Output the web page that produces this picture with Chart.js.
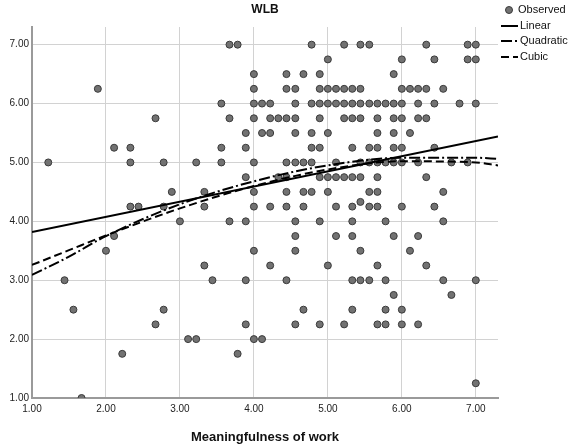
<!DOCTYPE html>
<html><head><meta charset="utf-8">
<script src="https://cdn.jsdelivr.net/npm/chart.js@4/dist/chart.umd.min.js"></script>
<style>html,body{margin:0;padding:0;background:#fff;overflow:hidden}#wrap{width:577px;height:448px}</style>
</head><body><div id="wrap"><canvas id="c" width="577" height="448"></canvas></div>
<script>
const chartTitle = 'WLB';
const xAxisTitle = 'Meaningfulness of work';
const tickValues = [1, 2, 3, 4, 5, 6, 7];
const legendLabels = ['Observed', 'Linear', 'Quadratic', 'Cubic'];

// Observed points (Meaningfulness of work, WLB), grouped by WLB level
const meaningfulness = [
  3.67,3.78,4.78,5.22,5.44,5.56,6.33,6.89,7.00,
  5.00,6.00,6.44,6.89,7.00,
  4.00,4.44,4.67,4.89,5.89,
  1.89,4.00,4.44,4.56,4.89,5.00,5.11,5.22,5.33,5.44,6.00,6.11,6.22,6.33,6.56,
  3.56,4.00,4.11,4.22,4.56,4.78,4.89,5.00,5.11,5.22,5.33,5.44,5.56,5.67,5.78,5.89,6.00,6.22,6.44,6.78,7.00,
  2.67,3.67,4.00,4.22,4.33,4.44,4.56,4.89,5.22,5.33,5.44,5.67,5.89,6.00,6.22,6.33,
  3.89,4.11,4.22,4.56,4.78,5.00,5.67,5.89,6.11,
  2.11,2.33,3.56,3.89,4.78,4.89,5.33,5.56,5.67,5.89,6.00,6.44,
  1.22,2.33,2.78,3.22,3.56,4.00,4.44,4.56,4.67,4.78,5.11,5.44,5.56,5.67,5.78,5.89,6.00,6.22,6.67,6.89,
  3.89,4.33,4.44,4.89,5.00,5.11,5.22,5.33,5.44,5.67,6.33,
  2.89,3.33,4.00,4.44,4.67,4.78,5.00,5.56,5.67,6.56,
  5.44,
  2.33,2.44,2.78,3.33,4.00,4.22,4.44,4.67,5.11,5.33,5.56,5.67,6.00,6.44,
  3.00,3.67,3.89,4.56,4.89,5.33,5.78,6.56,
  2.11,4.56,5.11,5.33,5.89,6.22,
  2.00,4.00,4.56,5.44,6.11,
  3.33,4.22,5.00,5.67,6.33,
  1.44,3.44,3.89,4.44,5.33,5.44,5.56,5.78,6.56,7.00,
  5.89,6.67,
  1.56,2.78,4.67,5.33,5.78,6.00,
  2.67,3.89,4.56,4.89,5.22,5.67,5.78,6.00,6.22,
  3.11,3.22,4.00,4.11,
  2.22,3.78,
  7.00,
  1.67
];
const wlb = [
  7,7,7,7,7,7,7,7,7,
  6.75,6.75,6.75,6.75,6.75,
  6.5,6.5,6.5,6.5,6.5,
  6.25,6.25,6.25,6.25,6.25,6.25,6.25,6.25,6.25,6.25,6.25,6.25,6.25,6.25,6.25,
  6,6,6,6,6,6,6,6,6,6,6,6,6,6,6,6,6,6,6,6,6,
  5.75,5.75,5.75,5.75,5.75,5.75,5.75,5.75,5.75,5.75,5.75,5.75,5.75,5.75,5.75,5.75,
  5.5,5.5,5.5,5.5,5.5,5.5,5.5,5.5,5.5,
  5.25,5.25,5.25,5.25,5.25,5.25,5.25,5.25,5.25,5.25,5.25,5.25,
  5,5,5,5,5,5,5,5,5,5,5,5,5,5,5,5,5,5,5,5,
  4.75,4.75,4.75,4.75,4.75,4.75,4.75,4.75,4.75,4.75,4.75,
  4.5,4.5,4.5,4.5,4.5,4.5,4.5,4.5,4.5,4.5,
  4.33,
  4.25,4.25,4.25,4.25,4.25,4.25,4.25,4.25,4.25,4.25,4.25,4.25,4.25,4.25,
  4,4,4,4,4,4,4,4,
  3.75,3.75,3.75,3.75,3.75,3.75,
  3.5,3.5,3.5,3.5,3.5,
  3.25,3.25,3.25,3.25,3.25,
  3,3,3,3,3,3,3,3,3,3,
  2.75,2.75,
  2.5,2.5,2.5,2.5,2.5,2.5,
  2.25,2.25,2.25,2.25,2.25,2.25,2.25,2.25,2.25,
  2,2,2,2,
  1.75,1.75,
  1.25,
  1
];

// Fitted curves
const linearX = [1, 7.3];
const linearY = [3.82, 5.44];
const fitX = [1, 1.5, 2, 3, 4, 5, 6, 7, 7.3];
const quadraticY = [3.09, 3.40, 3.75, 4.29, 4.68, 4.95, 5.08, 5.08, 5.06];
const cubicY = [3.26, 3.51, 3.76, 4.22, 4.60, 4.88, 5.02, 5.00, 4.95];

const toXY = (xs, ys) => xs.map((x, i) => ({x: x, y: ys[i]}));

const POINT_FILL = '#727272', POINT_EDGE = '#3a3a3a';
const styles = [
  {dash: []},
  {dash: []},
  {dash: [11, 3, 2, 3]},
  {dash: [8, 4]}
];

const overlayPlugin = {
  id: 'overlay',
  afterDraw(chart) {
    const ctx = chart.ctx, a = chart.chartArea;
    ctx.save();
    ctx.fillStyle = '#111';
    ctx.font = 'bold 12px "Liberation Sans", Arial, sans-serif';
    ctx.textAlign = 'center';
    ctx.textBaseline = 'middle';
    ctx.fillText(chartTitle, (a.left + a.right) / 2, 10);
    // legend
    ctx.font = '11px "Liberation Sans", Arial, sans-serif';
    ctx.textAlign = 'left';
    const rowY = [10, 26, 41, 57];
    legendLabels.forEach((lab, i) => {
      const y = rowY[i];
      if (i === 0) {
        ctx.beginPath();
        ctx.arc(509, y, 3.5, 0, Math.PI * 2);
        ctx.fillStyle = POINT_FILL; ctx.fill();
        ctx.lineWidth = 1; ctx.strokeStyle = POINT_EDGE; ctx.stroke();
        ctx.fillStyle = '#111';
        ctx.fillText(lab, 518, y);
      } else {
        ctx.beginPath();
        ctx.setLineDash(styles[i].dash);
        ctx.lineWidth = 2; ctx.strokeStyle = '#000';
        ctx.moveTo(501, y); ctx.lineTo(518, y); ctx.stroke();
        ctx.setLineDash([]);
        ctx.fillStyle = '#111';
        ctx.fillText(lab, 520, y);
      }
    });
    ctx.restore();
  }
};

const axisCommon = {
  type: 'linear', min: 1, max: 7.3,
  afterBuildTicks: s => { s.ticks = tickValues.map(v => ({value: v})); },
  ticks: {
    callback: v => Number(v).toFixed(2),
    font: {family: '"Liberation Sans", Arial, sans-serif', size: 10},
    color: '#222'
  },
  grid: {color: '#d2d2d2', lineWidth: 1, drawTicks: false},
  border: {color: '#9a9a9a', width: 2}
};

new Chart(document.getElementById('c'), {
  type: 'scatter',
  data: {
    datasets: [
      {label: 'Linear', type: 'line', data: toXY(linearX, linearY), borderColor: '#000', borderWidth: 2,
       pointRadius: 0, fill: false, order: 0, borderDash: styles[1].dash},
      {label: 'Quadratic', type: 'line', data: toXY(fitX, quadraticY), borderColor: '#000', borderWidth: 2,
       pointRadius: 0, fill: false, order: 0, borderDash: styles[2].dash, cubicInterpolationMode: 'monotone'},
      {label: 'Cubic', type: 'line', data: toXY(fitX, cubicY), borderColor: '#000', borderWidth: 2,
       pointRadius: 0, fill: false, order: 0, borderDash: styles[3].dash, cubicInterpolationMode: 'monotone'},
      {label: 'Observed', data: toXY(meaningfulness, wlb), backgroundColor: POINT_FILL, borderColor: POINT_EDGE,
       borderWidth: 1, pointRadius: 3.5, pointHoverRadius: 3.5, order: 1}
    ]
  },
  options: {
    responsive: false, animation: false, devicePixelRatio: 1,
    layout: {padding: {top: 27, right: 79, left: 0, bottom: 0}},
    plugins: {legend: {display: false}, title: {display: false}, tooltip: {enabled: false}},
    scales: {
      x: Object.assign({}, axisCommon, {
        position: 'bottom',
        afterFit: s => { s.height = 50; },
        ticks: Object.assign({}, axisCommon.ticks, {padding: 5, maxRotation: 0}),
        title: {display: true, text: xAxisTitle, color: '#111',
                font: {family: '"Liberation Sans", Arial, sans-serif', size: 13, weight: 'bold'},
                padding: {top: 0, bottom: 3}}
      }),
      y: Object.assign({}, axisCommon, {
        position: 'left',
        afterFit: s => { s.width = 32; },
        ticks: Object.assign({}, axisCommon.ticks, {padding: 3})
      })
    }
  },
  plugins: [overlayPlugin]
});
</script>
</body></html>
